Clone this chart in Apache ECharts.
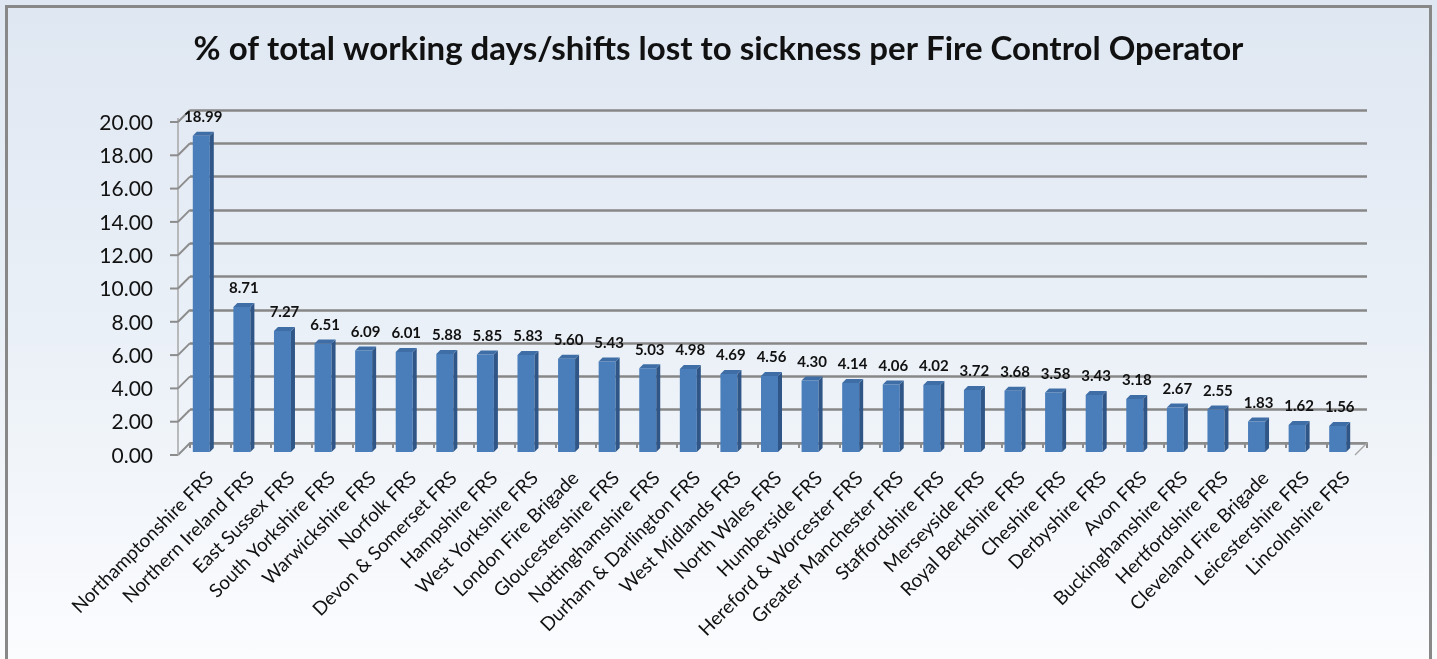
<!DOCTYPE html>
<html>
<head>
<meta charset="utf-8">
<script src="https://cdn.jsdelivr.net/npm/echarts@6/dist/echarts.min.js"></script>
<style>
  html, body { margin: 0; padding: 0; }
  #main {
    width: 1437px; height: 659px;
    background: linear-gradient(to bottom, #dfe7f2 0%, #eaf0f7 50%, #fbfcfe 100%);
  }
</style>
</head>
<body>
<div id="main"></div>
<script>
// chart data
var titleText = '% of total working days/shifts lost to sickness per Fire Control Operator';
var brigades = [
    'Northamptonshire FRS', 'Northern Ireland FRS', 'East Sussex FRS', 'South Yorkshire FRS',
    'Warwickshire FRS', 'Norfolk FRS', 'Devon & Somerset FRS', 'Hampshire FRS',
    'West Yorkshire FRS', 'London Fire Brigade', 'Gloucestershire FRS', 'Nottinghamshire FRS',
    'Durham & Darlington FRS', 'West Midlands FRS', 'North Wales FRS', 'Humberside FRS',
    'Hereford & Worcester FRS', 'Greater Manchester FRS', 'Staffordshire FRS', 'Merseyside FRS',
    'Royal Berkshire FRS', 'Cheshire FRS', 'Derbyshire FRS', 'Avon FRS',
    'Buckinghamshire FRS', 'Hertfordshire FRS', 'Cleveland Fire Brigade', 'Leicestershire FRS',
    'Lincolnshire FRS'
];
var sickness = [
    18.99, 8.71, 7.27, 6.51, 6.09, 6.01, 5.88, 5.85, 5.83, 5.60, 5.43, 5.03, 4.98, 4.69, 4.56,
    4.30, 4.14, 4.06, 4.02, 3.72, 3.68, 3.58, 3.43, 3.18, 2.67, 2.55, 1.83, 1.62, 1.56
];
var yTicks = [0, 2, 4, 6, 8, 10, 12, 14, 16, 18, 20];

var DX = -12, DY = 12;   // depth of the floor (back wall -> front edge)

function renderBar(params, api) {
    var i = api.value(0), v = api.value(1);
    var base = api.coord([i, 0]), top = api.coord([i, v]);
    var w = 17, d = 4;
    var x0 = base[0] - 9 - w / 2, x1 = x0 + w;
    var yb = base[1] + 9, yt = top[1] + 9;
    return {
        type: 'group',
        children: [
            { type: 'rect', shape: { x: x0, y: yt, width: w, height: yb - yt },
              style: { fill: '#4a7ebb' } },
            { type: 'polygon', shape: { points: [[x1, yt], [x1 + d, yt - d], [x1 + d, yb - d], [x1, yb]] },
              style: { fill: '#2f5687' } },
            { type: 'polygon', shape: { points: [[x0, yt], [x1, yt], [x1 + d, yt - d], [x0 + d, yt - d]] },
              style: { fill: '#3f6ea6' } },
            { type: 'text', style: {
                x: x0 + w / 2 + 2, y: yt - d - 7,
                text: v.toFixed(2), align: 'center', verticalAlign: 'bottom',
                font: 'bold 15px Lato', fill: '#111'
            } }
        ]
    };
}

function renderFrame(params, api) {
    var t = api.value(1);
    var p = api.coord([0, t]);
    var band = api.size([1, 0])[0];
    var L = p[0] - band / 2;
    var kids = [
        { type: 'line', shape: { x1: L, y1: p[1], x2: L + DX, y2: p[1] + DY },
          style: { stroke: '#8c8c8c', lineWidth: 2 } },
        { type: 'line', shape: { x1: L + DX, y1: p[1] + DY, x2: L + DX - 8, y2: p[1] + DY },
          style: { stroke: '#8c8c8c', lineWidth: 2 } }
    ];
    if (t === 0) {
        var pt = api.coord([0, yTicks[yTicks.length - 1]]);
        var pr = api.coord([brigades.length - 1, 0]);
        var R = pr[0] + band / 2;
        kids.push({ type: 'line', shape: { x1: L + DX, y1: pt[1] + DY - 4, x2: L + DX, y2: p[1] + DY },
                    style: { stroke: '#a6a6a6', lineWidth: 1.5 } });
        kids.push({ type: 'line', shape: { x1: R, y1: p[1], x2: R + DX, y2: p[1] + DY },
                    style: { stroke: '#a6a6a6', lineWidth: 1.5 } });
    }
    return { type: 'group', children: kids };
}

var myChart = echarts.init(document.getElementById('main'));

var option = {
    backgroundColor: 'transparent',
    animation: false,
    title: {
        text: titleText,
        left: 'center',
        top: 28,
        textStyle: { fontFamily: 'Lato', fontWeight: 'bold', fontSize: 33, color: '#111' }
    },
    graphic: [{
        type: 'rect',
        shape: { x: 6.5, y: 6.5, width: 1424, height: 700 },
        style: { fill: null, stroke: '#888', lineWidth: 3 },
        silent: true
    }],
    grid: { left: 190, right: 70, top: 110, bottom: 216 },
    xAxis: {
        type: 'category',
        data: brigades,
        offset: 12,
        axisLine: { lineStyle: { color: '#8c8c8c', width: 2 } },
        axisTick: { show: true, length: 5, lineStyle: { color: '#8c8c8c', width: 2 } },
        axisLabel: {
            interval: 0, rotate: 45, margin: 20,
            fontFamily: 'Lato', fontSize: 19, color: '#111'
        }
    },
    yAxis: {
        type: 'value',
        min: 0, max: 20, interval: 2,
        axisLine: { show: false },
        axisTick: { show: false },
        splitLine: { lineStyle: { color: '#878787', width: 2.5 } },
        axisLabel: {
            margin: 37,
            verticalAlign: 'top',
            lineHeight: 26,
            fontFamily: 'Lato', fontSize: 21, color: '#111',
            formatter: function (v) { return v.toFixed(2); }
        }
    },
    series: [{
        type: 'custom',
        name: 'frame',
        silent: true,
        renderItem: renderFrame,
        encode: { x: 0, y: 1 },
        data: yTicks.map(function (t) { return [0, t]; }),
        z: 1
    }, {
        type: 'custom',
        name: 'sickness',
        renderItem: renderBar,
        encode: { x: 0, y: 1 },
        data: sickness.map(function (v, i) { return [i, v]; }),
        z: 3
    }]
};

myChart.setOption(option);
</script>
</body>
</html>
